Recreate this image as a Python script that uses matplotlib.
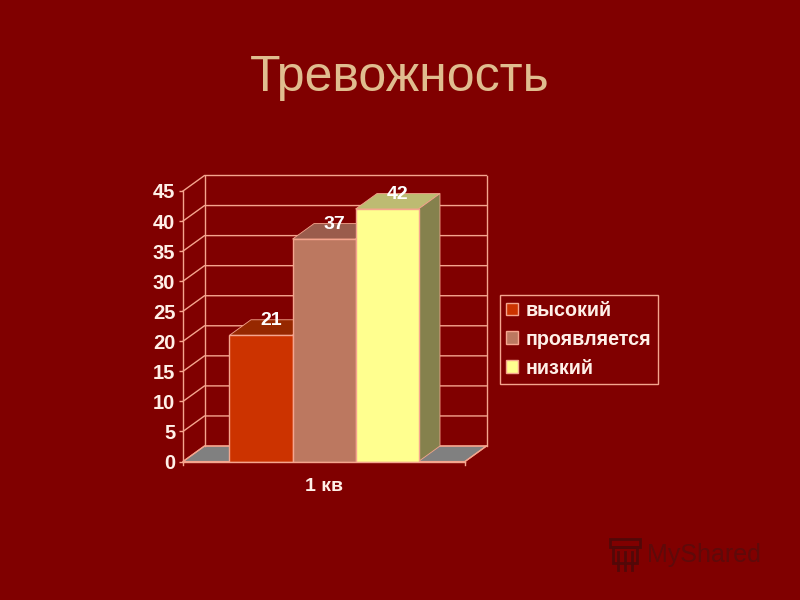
import matplotlib

matplotlib.use("Agg")
import matplotlib.pyplot as plt
from matplotlib.lines import Line2D
from matplotlib.patches import Polygon, Rectangle

plt.rcParams["font.family"] = ["Liberation Sans", "DejaVu Sans"]

title = "Тревожность"
category = "1 кв"
series = ["высокий", "проявляется", "низкий"]
values = [21, 37, 42]
labels = ["21", "37", "42"]
yticks = [0, 5, 10, 15, 20, 25, 30, 35, 40, 45]

front = ["#CC3300", "#BC7860", "#FFFF8F"]
top = ["#962800", "#9A5C4C", "#BDBB72"]
side = ["#8A2A00", "#8A5A48", "#85814D"]
bg = "#800000"
line = "#F5A58E"

W, H = 800, 600
fig = plt.figure(figsize=(8, 6), dpi=100, facecolor=bg)
# front plane of the fake 3d box, pixels
left, right, y0, y45 = 183, 465, 461.5, 191
ax = fig.add_axes([left / W, 1 - y0 / H, (right - left) / W, (y0 - y45) / H])
ax.set_facecolor("none")
ax.set_xlim(-0.5, 0.5)
ax.set_ylim(0, 45)

sx = (right - left)
sy = (y0 - y45) / 45
dx = 21.5 / sx
dy = 15.5 / sy
bar_w = 63 / sx

# floor
ax.add_patch(Polygon([(-0.5, 0), (0.5, 0), (0.5 + dx, dy), (-0.5 + dx, dy)],
                     fc="#808080", ec=line, lw=0.8, clip_on=False, zorder=1))
# walls and grid
for t in yticks:
    ax.plot([-0.5, -0.5 + dx, 0.5 + dx], [t, t + dy, t + dy], color=line, lw=1,
            clip_on=False, zorder=2)
ax.plot([-0.5 + dx, -0.5 + dx], [dy, 45 + dy], color=line, lw=1, clip_on=False, zorder=2)
ax.plot([0.5 + dx, 0.5 + dx], [dy, 45 + dy], color=line, lw=1, clip_on=False, zorder=2)
ax.plot([0.5, 0.5 + dx], [0, dy], color=line, lw=1, clip_on=False, zorder=2)

handles = []
for i, v in enumerate(values):
    x = (i - 1) * bar_w
    b = ax.bar(x, v, bar_w, color=front[i], edgecolor=line, lw=1, zorder=4 + i, label=series[i])
    handles.append(b[0])
    xl, xr = x - bar_w / 2, x + bar_w / 2
    ax.add_patch(Polygon([(xl, v), (xr, v), (xr + dx, v + dy), (xl + dx, v + dy)],
                         fc=top[i], ec=line, lw=0.6, clip_on=False, zorder=3 + i))
    ax.add_patch(Polygon([(xr, 0), (xr + dx, dy), (xr + dx, v + dy), (xr, v)],
                         fc=side[i], ec=line, lw=0.6, clip_on=False, zorder=3 + i))
    ax.text(x + dx * 0.48, v + 1.0, labels[i], color="white", fontsize=14, fontweight="bold",
            ha="center", va="bottom", zorder=10)

for s in ["top", "right"]:
    ax.spines[s].set_visible(False)
for s in ["left", "bottom"]:
    ax.spines[s].set_color(line)
    ax.spines[s].set_linewidth(1)
    ax.spines[s].set_zorder(9)
ax.set_yticks(yticks)
ax.set_xticks([0])
ax.set_xticklabels([category])
ax.tick_params(axis="y", colors=line, labelcolor="#FFF0E8", length=3, width=1, pad=2.5, labelsize=14.5)
ax.tick_params(axis="x", length=0, labelcolor="#FFF0E8", pad=12, labelsize=14)
for lb in ax.get_xticklabels() + ax.get_yticklabels():
    lb.set_fontweight("bold")
# end ticks on the category axis
ax.plot([-0.5, -0.5], [0, -0.5], color=line, lw=1, clip_on=False)
ax.plot([0.5, 0.5], [0, -0.5], color=line, lw=1, clip_on=False)

fig.text(400 / W, 1 - 78 / H, title, color="#E0BD8F", fontsize=36, ha="center", va="center")

# legend box
leg = fig.legend(handles, series, loc="upper left",
                 bbox_to_anchor=(500 / W, 1 - 295 / H), frameon=True,
                 prop={"weight": "bold", "size": 14.2}, labelcolor="#FFF0E8",
                 facecolor=bg, edgecolor=line, fancybox=False, framealpha=1,
                 borderpad=0.3, labelspacing=0.5, handlelength=0.62, handleheight=0.62,
                 handletextpad=0.4, borderaxespad=0)
leg.get_frame().set_linewidth(1)

# watermark
wm = "#520808"
fig.text(647 / W, 1 - 555 / H, "MyShared", color="#5E0A0A", fontsize=18, ha="left", va="center")
fig.add_artist(Rectangle((610 / W, 1 - 547 / H), 30 / W, 8 / H, transform=fig.transFigure,
                         fc="none", ec=wm, lw=2))
fig.add_artist(Rectangle((613 / W, 1 - 563 / H), 24 / W, 16 / H, transform=fig.transFigure,
                         fc="none", ec=wm, lw=2))
for px in [618, 625, 632]:
    fig.add_artist(Line2D([px / W, px / W], [1 - 570 / H, 1 - 552 / H], color=wm, lw=2))

fig.savefig("out.png", dpi=100, facecolor=bg)
